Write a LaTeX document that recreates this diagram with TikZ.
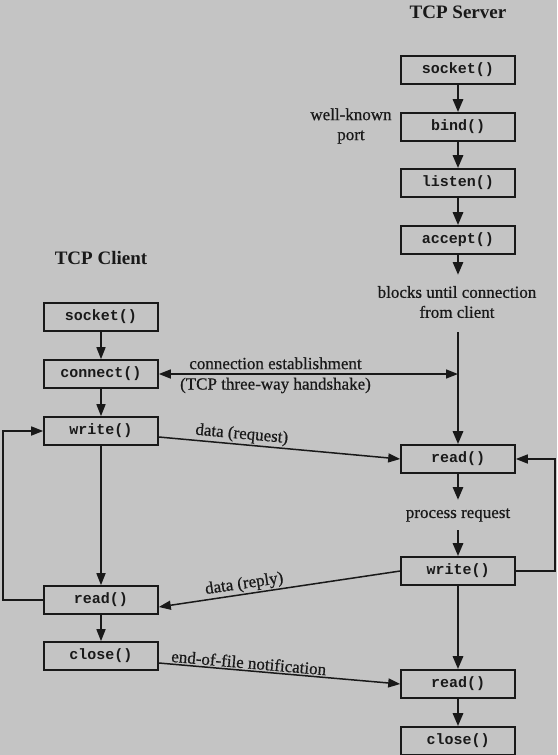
\documentclass[tikz,border=0pt]{standalone}
\usepackage{fontspec}
\setmainfont{Liberation Serif}
\setmonofont{Liberation Mono}
\newfontfamily\notefont{Liberation Serif}[FakeBold=0.6]
\usetikzlibrary{arrows.meta}
\definecolor{paper}{RGB}{196,196,196}
\definecolor{ink}{RGB}{25,25,25}
\tikzset{
  call/.style={draw=ink, line width=1.6pt, fill=paper, minimum width=114pt, minimum height=28pt, inner sep=0pt, text=ink, font=\ttfamily\bfseries\fontsize{15}{15}\selectfont},
  srvflow/.style={draw=ink, line width=2.8pt, -{Triangle[length=13pt,width=10pt]}},
  cliflow/.style={draw=ink, line width=1.5pt, -{Triangle[length=12pt,width=9pt]}},
  remark/.style={text=ink, align=center, font=\notefont\fontsize{17}{20}\selectfont},
  headline/.style={text=ink, font=\bfseries\fontsize{19}{19}\selectfont},
}
\begin{document}
\begin{tikzpicture}[x=1pt,y=-1pt]
\useasboundingbox[fill=paper] (0,0) rectangle (557,755);
% server side
\node[headline] (srvtitle) at (458,12) {TCP Server};
\node[call] (ssocket) at (458,70) {socket()};
\node[call] (sbind) at (458,127) {bind()};
\node[call] (slisten) at (458,183) {listen()};
\node[call] (saccept) at (458,240) {accept()};
\node[remark] (wkport) at (351,126) {well-known\\port};
\node[remark] (blocks) at (457,302) {blocks until connection\\from client};
\coordinate (sblock) at (458,275);
\coordinate (sline) at (458,332);
\coordinate (shake) at (458,374);
\node[call] (sread) at (458,459) {read()};
\node[remark] (process) at (458,515) {process request};
\coordinate (sproc) at (458,500);
\coordinate (sproc2) at (458,530);
\node[call] (swrite) at (458,571) {write()};
\node[call] (sread2) at (458,684) {read()};
\node[call] (sclose) at (458,741) {close()};
\coordinate (sloop1) at (555,571);
\coordinate (sloop2) at (555,459);
\draw[srvflow] (ssocket) -- (sbind);
\draw[srvflow] (sbind) -- (slisten);
\draw[srvflow] (slisten) -- (saccept);
\draw[srvflow] (saccept) -- (sblock);
\draw[srvflow] (sline) -- (sread);
\draw[srvflow] (sread) -- (sproc);
\draw[srvflow] (sproc2) -- (swrite);
\draw[srvflow] (swrite) -- (sread2);
\draw[srvflow] (sread2) -- (sclose);
\draw[cliflow] (swrite.east) -- (sloop1) -- (sloop2) -- (sread.east);
% client side
\node[headline] (clititle) at (101,258) {TCP Client};
\node[call] (csocket) at (101,317) {socket()};
\node[call] (cconnect) at (101,374) {connect()};
\node[call] (cwrite) at (101,431) {write()};
\node[call] (cread) at (101,600) {read()};
\node[call] (cclose) at (101,656) {close()};
\coordinate (cloop1) at (3,600);
\coordinate (cloop2) at (3,431);
\draw[cliflow] (csocket) -- (cconnect);
\draw[cliflow] (cconnect) -- (cwrite);
\draw[cliflow] (cwrite) -- (cread);
\draw[cliflow] (cread) -- (cclose);
\draw[cliflow] (cread.west) -- (cloop1) -- (cloop2) -- (cwrite.west);
% messages between the two
\draw[cliflow, {Triangle[length=12pt,width=9pt]}-{Triangle[length=12pt,width=9pt]}] (cconnect.east) -- (shake)
  node[remark, inner sep=1pt, pos=0.39, above=3pt] {connection establishment}
  node[remark, inner sep=1pt, pos=0.39, below=2pt] {(TCP three-way handshake)};
\draw[cliflow] ([yshift=-6pt]cwrite.east) -- (sread.west)
  node[remark, pos=0.34, sloped, above=-2pt] {data (request)};
\draw[cliflow] (swrite.west) -- ([yshift=-7pt]cread.east)
  node[remark, pos=0.64, sloped, above=-2pt] {data (reply)};
\draw[cliflow] ([yshift=-7pt]cclose.east) -- (sread2.west)
  node[remark, pos=0.37, sloped, above=-2pt] {end-of-file notification};
\end{tikzpicture}
\end{document}
